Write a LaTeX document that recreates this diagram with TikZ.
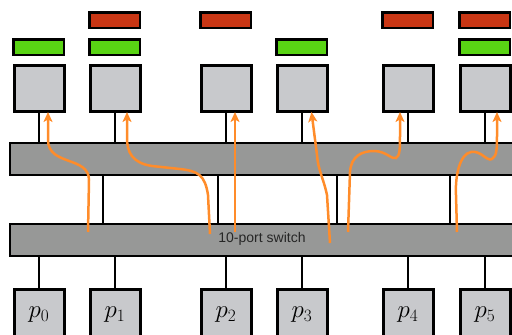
\documentclass[tikz,border=0pt]{standalone}
\usepackage{fontspec}
\newfontfamily\lsans{Liberation Sans}
\usetikzlibrary{arrows.meta}
\definecolor{bargray}{RGB}{151,152,151}
\definecolor{boxgray}{RGB}{200,201,204}
\definecolor{okgreen}{RGB}{89,212,20}
\definecolor{badred}{RGB}{201,54,20}
\definecolor{flow}{RGB}{255,140,42}
\begin{document}
\begin{tikzpicture}[x=1pt,y=-1pt,
  membox/.style={draw=black,line width=3pt,fill=boxgray,minimum width=50pt,minimum height=46pt,inner sep=0pt,anchor=north west},
  procbox/.style={draw=black,line width=3pt,fill=boxgray,minimum width=50pt,minimum height=52pt,inner sep=0pt,anchor=north west,font=\fontsize{25}{28}\selectfont},
  greenbar/.style={draw=black,line width=2.5pt,fill=okgreen,minimum width=50.5pt,minimum height=15.5pt,inner sep=0pt,anchor=north west},
  redbar/.style={draw=black,line width=2.5pt,fill=badred,minimum width=50.5pt,minimum height=15.5pt,inner sep=0pt,anchor=north west},
  switchbar/.style={draw=black,line width=2pt,fill=bargray,minimum width=530pt,minimum height=32pt,inner sep=0pt,anchor=north west},
  wire/.style={draw=black,line width=2pt},
  flowline/.style={draw=flow,line width=2.5pt,-{Stealth[length=10pt,width=9pt,inset=2.5pt]}}
]
\useasboundingbox (0,0) rectangle (512,335);
\clip (0,0) rectangle (512,335);
% bars
\node[switchbar] (bartop) at (9,142) {};
\node[switchbar] (barbot) at (9,223) {};
\node[font=\lsans\fontsize{14}{16}\selectfont,text=black!85] (lbl) at (262,239) {10-port switch};
% top memory boxes
\node[membox] (b1) at (12.5,63.5) {};
\node[membox] (b2) at (88.5,63.5) {};
\node[membox] (b3) at (199.5,63.5) {};
\node[membox] (b4) at (275.5,63.5) {};
\node[membox] (b5) at (381.5,63.5) {};
\node[membox] (b6) at (458.5,63.5) {};
% green bars
\node[greenbar] (g1) at (12.3,38.3) {};
\node[greenbar] (g2) at (88.3,38.3) {};
\node[greenbar] (g4) at (275.3,38.3) {};
\node[greenbar] (g6) at (458.3,38.3) {};
% red bars
\node[redbar] (r2) at (88.3,11.3) {};
\node[redbar] (r3) at (199.3,11.3) {};
\node[redbar] (r5) at (381.3,11.3) {};
\node[redbar] (r6) at (458.3,11.3) {};
% processors
\node[procbox] (p0) at (12.5,287.5) {$p_0$};
\node[procbox] (p1) at (88.5,287.5) {$p_1$};
\node[procbox] (p2) at (199.5,287.5) {$p_2$};
\node[procbox] (p3) at (275.5,287.5) {$p_3$};
\node[procbox] (p4) at (381.5,287.5) {$p_4$};
\node[procbox] (p5) at (458.5,287.5) {$p_5$};
% wires memory -> top bar
\foreach \b in {b1,b2,b3,b4,b5,b6}
  \draw[wire] (\b.south) -- (\b.south |- bartop.north);
% wires bottom bar -> processors
\foreach \p in {p0,p1,p2,p3,p4,p5}
  \draw[wire] (\p.north) -- (\p.north |- barbot.south);
% wires between bars
\foreach \x in {103,218,337,450}
  \draw[wire] (\x,0 |- bartop.south) -- (\x,0 |- barbot.north);
% flow coordinates
\coordinate (s1) at (88,232);   \coordinate (e1) at (48,112);
\coordinate (s2) at (210,234);  \coordinate (e2) at (127,112);
\coordinate (s3) at (235,232);  \coordinate (e3) at (235,112);
\coordinate (s4) at (330,243);  \coordinate (e4) at (311.5,112);
\coordinate (s5) at (348,232);  \coordinate (e5) at (400,112);
\coordinate (s6) at (457,232);  \coordinate (e6) at (497,112);
% flows
\draw[flowline] (s1) -- (89,180) .. controls (89,156) and (48,166) .. (48,140) -- (e1);
\draw[flowline] (s2) -- (208,195) .. controls (205,175) and (198,171) .. (180,169) -- (152,166) .. controls (132,163) and (127,152) .. (127,138) -- (e2);
\draw[flowline] (s3) -- (e3);
\draw[flowline] (s4) -- (327,195) .. controls (324,180) and (318,170) .. (317,155) -- (e4);
\draw[flowline] (s5) -- (350,172) .. controls (351,156) and (362,151) .. (374,151) .. controls (386,151) and (392,160) .. (396,158) .. controls (400,156) and (400,148) .. (400,135) -- (e5);
\draw[flowline] (s6) -- (456,195) .. controls (455,175) and (460,154) .. (471,152) .. controls (481,150) and (487,162) .. (492,159) .. controls (497,156) and (497,148) .. (497,135) -- (e6);
\end{tikzpicture}
\end{document}
